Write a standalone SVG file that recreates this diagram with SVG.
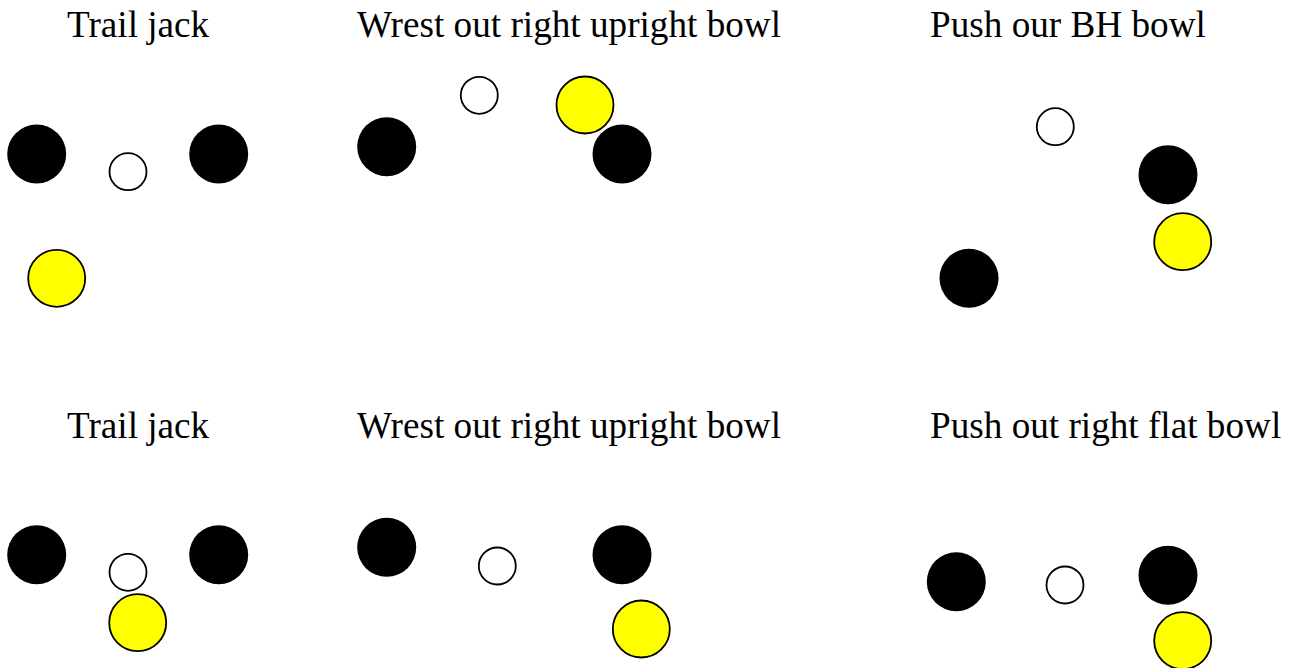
<svg xmlns="http://www.w3.org/2000/svg" width="1290" height="668" viewBox="0 0 1290 668">
<style>
.t{font-family:"Liberation Serif","Times New Roman",serif;font-size:37.2px;fill:#000}
.b{fill:#000}
.j{fill:#fff;stroke:#000;stroke-width:1.8}
.y{fill:#ff0;stroke:#000;stroke-width:1.8}
</style>
<rect width="1290" height="668" fill="#fff"/>
<g id="panel1">
<text class="t" x="67" y="37">Trail jack</text>
<circle class="b" cx="36.7" cy="154" r="29.5"/>
<circle class="j" cx="128" cy="171.7" r="18.5"/>
<circle class="b" cx="218.7" cy="154" r="29.5"/>
<circle class="y" cx="56.7" cy="278.3" r="28.5"/>
</g>
<g id="panel2">
<text class="t" x="357" y="37">Wrest out right upright bowl</text>
<circle class="j" cx="479.3" cy="95.3" r="18.5"/>
<circle class="y" cx="585" cy="105" r="28.5"/>
<circle class="b" cx="386.7" cy="146.7" r="29.5"/>
<circle class="b" cx="622" cy="154" r="29.5"/>
</g>
<g id="panel3">
<text class="t" x="930" y="37">Push our BH bowl</text>
<circle class="j" cx="1055.3" cy="126.7" r="18.5"/>
<circle class="b" cx="1168" cy="174.7" r="29.5"/>
<circle class="y" cx="1182.7" cy="241.7" r="28.5"/>
<circle class="b" cx="969" cy="278.3" r="29.5"/>
</g>
<g id="panel4">
<text class="t" x="67" y="438.3">Trail jack</text>
<circle class="b" cx="36.7" cy="554.7" r="29.5"/>
<circle class="j" cx="128" cy="572.3" r="18.5"/>
<circle class="b" cx="218.7" cy="554.7" r="29.5"/>
<circle class="y" cx="137.7" cy="622.7" r="28.5"/>
</g>
<g id="panel5">
<text class="t" x="357" y="438.3">Wrest out right upright bowl</text>
<circle class="b" cx="386.7" cy="547.3" r="29.5"/>
<circle class="j" cx="497.3" cy="566" r="18.5"/>
<circle class="b" cx="622" cy="554.7" r="29.5"/>
<circle class="y" cx="641.3" cy="629" r="28.5"/>
</g>
<g id="panel6">
<text class="t" x="930" y="438.3">Push out right flat bowl</text>
<circle class="b" cx="956.3" cy="581.7" r="29.5"/>
<circle class="j" cx="1065" cy="585" r="18.5"/>
<circle class="b" cx="1168" cy="575.3" r="29.5"/>
<circle class="y" cx="1182.7" cy="640.7" r="28.5"/>
</g>
<g id="connectors"></g>
</svg>
